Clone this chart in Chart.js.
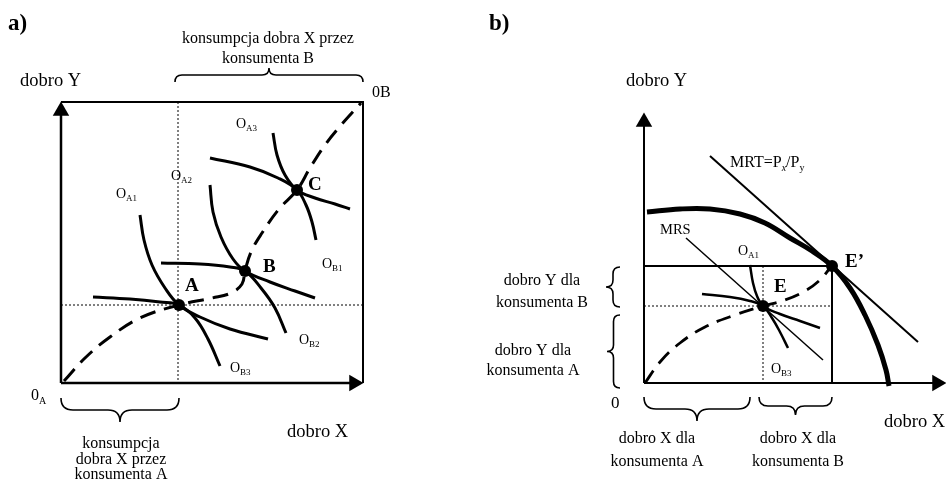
<!DOCTYPE html>
<html>
<head>
<meta charset="utf-8">
<script src="https://cdn.jsdelivr.net/npm/chart.js@4.4.1/dist/chart.umd.min.js"></script>
<style>
  html, body { margin: 0; padding: 0; background: #fff; overflow: hidden; }
</style>
</head>
<body>
<canvas id="myChart" width="946" height="482"></canvas>
<script>
// ---- dane: wykres a) skrzynka Edgewortha (jednostki = punkty obrazu) ----
const ramkaA = [[61, 102], [363, 102], [363, 383]];
const osYA = [[61, 383], [61, 112]];
const osXA = [[61, 383], [352, 383]];
const przerywanaPionA = [[178, 102], [178, 383]];
const przerywanaPozA = [[61, 305], [363, 305]];
const kontraktA = [[64, 381], [85, 358], [110, 337], [140, 318], [179, 305], [212, 298], [231, 293], [242, 284], [245, 271], [251, 252], [262, 233], [279, 209], [297, 190], [310, 168], [325, 145], [342, 124], [361, 103]];
const oA1 = [[140, 215], [144, 240], [152, 265], [165, 288], [179, 305], [200, 317], [230, 329], [268, 339]];
const oB3 = [[93, 297], [130, 299], [160, 302], [179, 305], [195, 318], [208, 339], [220, 366]];
const oA2 = [[210, 185], [213, 212], [221, 237], [233, 259], [245, 271], [270, 282], [295, 291], [315, 298]];
const oB2 = [[161, 263], [200, 264], [230, 267], [245, 271], [261, 288], [275, 308], [286, 333]];
const oA3 = [[273, 133], [277, 155], [285, 175], [297, 190], [315, 198], [335, 204], [350, 209]];
const oB1 = [[210, 158], [250, 167], [278, 178], [297, 190], [306, 205], [312, 222], [316, 240]];
const punktyA = [[179, 305], [245, 271], [297, 190]];

// ---- dane: wykres b) ----
const osYB = [[644, 383], [644, 121]];
const osXB = [[644, 383], [936, 383]];
const ppf = [[647, 212], [680, 209], [710, 209], [740, 214], [765, 223], [790, 238], [812, 251], [832, 266], [850, 288], [865, 315], [878, 345], [886, 370], [889, 386]];
const mrt = [[710, 156], [918, 342]];
const mrs = [[686, 238], [823, 360]];
const prostokatB = [[644, 266], [832, 266], [832, 383]];
const przerywanaPozB = [[644, 306], [832, 306]];
const przerywanaPionB = [[763, 266], [763, 383]];
const kontraktB = [[645, 383], [660, 362], [680, 343], [705, 327], [735, 315], [763, 306], [785, 300], [805, 291], [820, 280], [830, 268]];
const oA1b = [[750, 265], [753, 283], [757, 296], [763, 306], [780, 314], [800, 321], [820, 328]];
const oB3b = [[702, 294], [730, 297], [750, 301], [763, 306], [772, 318], [780, 332], [788, 348]];
const punktyB = [[763, 306], [832, 266]];

// strzalki osi: [x, y, obrot]
const strzalki = [[61, 111, 0], [354, 383, 90], [644, 122, 0], [937, 383, 90]];

// klamry: poczatek, koniec, glebokosc
const klamry = [
  [[175, 82], [363, 82], -14],
  [[61, 398], [179, 398], 24],
  [[620, 267], [620, 307], 14],
  [[620, 315], [620, 388], 13],
  [[644, 397], [750, 397], 24],
  [[759, 397], [832, 397], 18]
];

// napisy: czesci tekstu, x, y (linia bazowa), wyrownanie, rozmiar, pogrubienie
const napisy = [
  [[['a)']], 8, 30, 'left', 23, true],
  [[['b)']], 489, 30, 'left', 23, true],
  [[['konsumpcja dobra X przez']], 268, 43, 'center', 16],
  [[['konsumenta B']], 268, 63, 'center', 16],
  [[['dobro Y']], 20, 86, 'left', 18.5],
  [[['0B']], 372, 97, 'left', 16],
  [[['O'], ['A3', 's']], 236, 128, 'left', 14],
  [[['O'], ['A2', 's']], 171, 180, 'left', 14],
  [[['O'], ['A1', 's']], 116, 198, 'left', 14],
  [[['O'], ['B1', 's']], 322, 268, 'left', 14],
  [[['O'], ['B2', 's']], 299, 344, 'left', 14],
  [[['O'], ['B3', 's']], 230, 372, 'left', 14],
  [[['A']], 185, 291, 'left', 19, true],
  [[['B']], 263, 272, 'left', 19, true],
  [[['C']], 308, 190, 'left', 19, true],
  [[['0'], ['A', 's']], 31, 400, 'left', 16],
  [[['konsumpcja']], 121, 448, 'center', 16],
  [[['dobra X przez']], 121, 464, 'center', 16],
  [[['konsumenta A']], 121, 479, 'center', 16],
  [[['dobro X']], 287, 437, 'left', 18.5],
  [[['dobro Y']], 626, 86, 'left', 18.5],
  [[['0']], 611, 408, 'left', 17],
  [[['dobro X']], 884, 427, 'left', 18.5],
  [[['MRT=P'], ['x', 'si'], ['/P'], ['y', 's']], 730, 167, 'left', 16],
  [[['MRS']], 660, 234, 'left', 14.5],
  [[['O'], ['A1', 's']], 738, 255, 'left', 14],
  [[['O'], ['B3', 's']], 771, 373, 'left', 14],
  [[['E']], 774, 292, 'left', 19, true],
  [[['E\u2019']], 845, 267, 'left', 19, true],
  [[['dobro Y dla']], 542, 285, 'center', 16],
  [[['konsumenta B']], 542, 307, 'center', 16],
  [[['dobro Y dla']], 533, 355, 'center', 16],
  [[['konsumenta A']], 533, 375, 'center', 16],
  [[['dobro X dla']], 657, 443, 'center', 16],
  [[['konsumenta A']], 657, 466, 'center', 16],
  [[['dobro X dla']], 798, 443, 'center', 16],
  [[['konsumenta B']], 798, 466, 'center', 16]
];

const FONT = '"Liberation Serif", "DejaVu Serif", serif';

function pkt(arr) {
  return arr.map(p => ({ x: p[0], y: p[1] }));
}

const zbiory = [];
function linia(arr, w, dash, tension) {
  zbiory.push({
    data: pkt(arr), showLine: true, pointRadius: 0, borderColor: '#000',
    borderWidth: w, borderDash: dash || [], tension: tension || 0, fill: false,
    borderCapStyle: 'butt', borderJoinStyle: 'miter'
  });
}

// wykres a)
linia(przerywanaPionA, 1, [2, 2]);
linia(przerywanaPozA, 1, [2, 2]);
linia(ramkaA, 2);
linia(osYA, 2.5);
linia(osXA, 2.5);
linia(kontraktA, 3, [16, 9], 0.4);
linia(oA1, 3, [], 0.4);
linia(oB3, 3, [], 0.4);
linia(oA2, 3, [], 0.4);
linia(oB2, 3, [], 0.4);
linia(oA3, 3, [], 0.4);
linia(oB1, 3, [], 0.4);

// wykres b)
linia(przerywanaPozB, 1, [2, 2]);
linia(przerywanaPionB, 1, [2, 2]);
linia(osYB, 2);
linia(osXB, 2);
linia(prostokatB, 2);
linia(ppf, 5, [], 0.4);
linia(mrt, 2);
linia(mrs, 1.5);
linia(kontraktB, 2.8, [15, 9], 0.4);
linia(oA1b, 2.5, [], 0.4);
linia(oB3b, 2.5, [], 0.4);

zbiory.push({
  data: pkt(punktyA.concat(punktyB)), showLine: false, pointRadius: 6,
  pointStyle: 'circle', backgroundColor: '#000', borderColor: '#000', borderWidth: 0
});

strzalki.forEach(s => {
  zbiory.push({
    data: [{ x: s[0], y: s[1] }], showLine: false, pointRadius: 9.5,
    pointStyle: 'triangle', rotation: s[2], backgroundColor: '#000',
    borderColor: '#000', borderWidth: 0
  });
});

// rysowanie klamer i napisow przez skale wykresu
const dodatki = {
  id: 'dodatki',
  afterDatasetsDraw(chart) {
    const ctx = chart.ctx;
    const sx = chart.scales.x, sy = chart.scales.y;
    const px = p => ({ x: sx.getPixelForValue(p[0]), y: sy.getPixelForValue(p[1]) });

    ctx.save();
    ctx.strokeStyle = '#000';
    ctx.lineWidth = 1.6;
    klamry.forEach(k => {
      const a = px(k[0]), b = px(k[1]);
      const dx = b.x - a.x, dy = b.y - a.y, L = Math.hypot(dx, dy);
      const u = { x: dx / L, y: dy / L }, n = { x: -u.y, y: u.x };
      const P = (s, t) => [a.x + u.x * s + n.x * t, a.y + u.y * s + n.y * t];
      const d = k[2], h = d / 2, q = Math.abs(h), m = L / 2;
      ctx.beginPath();
      ctx.moveTo(...P(0, 0));
      ctx.quadraticCurveTo(...P(0, h), ...P(q, h));
      ctx.lineTo(...P(m - q, h));
      ctx.quadraticCurveTo(...P(m, h), ...P(m, d));
      ctx.quadraticCurveTo(...P(m, h), ...P(m + q, h));
      ctx.lineTo(...P(L - q, h));
      ctx.quadraticCurveTo(...P(L, h), ...P(L, 0));
      ctx.stroke();
    });

    ctx.fillStyle = '#000';
    ctx.textBaseline = 'alphabetic';
    ctx.textAlign = 'left';
    napisy.forEach(n => {
      const [czesci, x, y, wyr, size, bold] = n;
      const fontDla = c => {
        const sub = c[1] === 's' || c[1] === 'si';
        const sz = sub ? Math.round(size * 0.65) : size;
        return (c[1] === 'si' ? 'italic ' : '') + (bold ? 'bold ' : '') + sz + 'px ' + FONT;
      };
      let w = 0;
      czesci.forEach(c => { ctx.font = fontDla(c); w += ctx.measureText(c[0]).width; });
      const p = px([x, y]);
      let cx = wyr === 'center' ? p.x - w / 2 : p.x;
      czesci.forEach(c => {
        ctx.font = fontDla(c);
        const dy = (c[1] === 's' || c[1] === 'si') ? size * 0.22 : 0;
        ctx.fillText(c[0], cx, p.y + dy);
        cx += ctx.measureText(c[0]).width;
      });
    });
    ctx.restore();
  }
};

new Chart(document.getElementById('myChart'), {
  type: 'scatter',
  data: { datasets: zbiory },
  options: {
    responsive: false,
    animation: false,
    devicePixelRatio: 1,
    layout: { padding: 0, autoPadding: false },
    events: [],
    plugins: { legend: { display: false }, tooltip: { enabled: false } },
    scales: {
      x: { type: 'linear', min: 0, max: 946, display: false },
      y: { type: 'linear', min: 0, max: 482, reverse: true, display: false }
    }
  },
  plugins: [dodatki]
});
</script>
</body>
</html>
